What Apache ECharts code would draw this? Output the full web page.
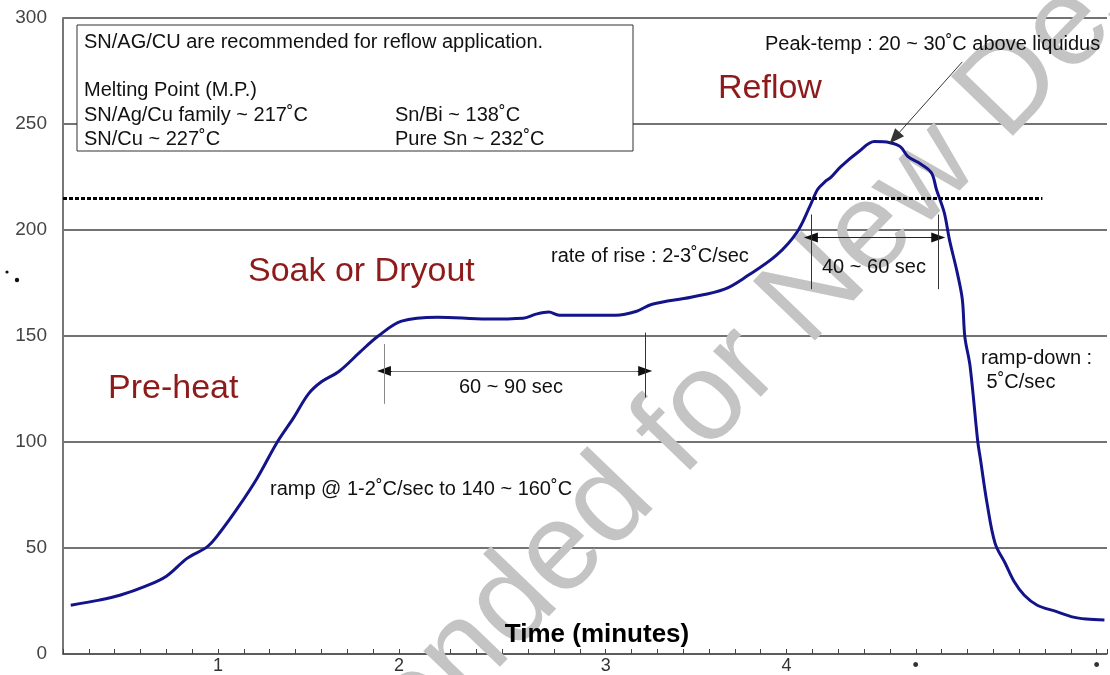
<!DOCTYPE html>
<html><head><meta charset="utf-8">
<script src="https://cdn.jsdelivr.net/npm/echarts@6/dist/echarts.min.js"></script>
<style>html,body{margin:0;padding:0;background:#fff}#c{width:1110px;height:675px}</style>
</head><body><div id="c"></div>
<script>
// x axis unit: ticks of 10 (seconds-like), labels as printed in the picture
const timeX = [3,14,22,32,40,48,56,61,68,75,83,89,95,100,107,115,122,131,145,164,178,183,188,192,214,222,228,243,256,265,276,284,289,292,295,297,301,308,314,320,324,327,331,336,338,341,343,346,348,349,351,354,355,357.6,360.7,364.6,368,372,377,384,391,396,403];
const tempY = [23,25.4,27.7,32,36.7,45.1,50.8,57.8,69.6,82.7,100.1,111,122.7,128.4,133.5,142.5,150,157,158.9,158,158.4,160.3,161.3,159.8,159.8,161.7,165,168.3,172.1,178.5,188,198.9,211.1,219.1,222.9,224.7,229.9,237,241.7,241.2,239.3,234.6,231.8,227.1,219.1,208.3,195.6,180.1,167.4,149.5,135.9,100.1,92.1,71,52.2,42.8,34.3,27.7,23,20.2,17.4,16.5,16];
const xTickLabels = {60:'1',130:'2',210:'3',280:'4',330:'•',400:'•'};
const liquidusTemp = 215;
const liquidusEnd = 379;
const soakSpan = [124.2,225.3], soakArrowY = 133.5, soakTicks = [[146.2,118],[151.6,121]];
const reflowSpan = [289.4,338.7], reflowArrowY = 196.5, reflowTicks = [207.3,172.1];
const peakArrowFrom = [348,279.3], peakArrowTo = [321.8,243.5];

const FONT = '"Liberation Sans", Arial, Helvetica, sans-serif';
const chart = echarts.init(document.getElementById('c'));
const tri = {symbol:'triangle', symbolSize:[10,14]};
const solid = c => ({color:c,width:1,type:'solid'});
// arrow with gray shaft and black heads
function arrow(x0,x1,y,shaft){
  return [
    [{coord:[x0,y],lineStyle:solid(shaft)},{coord:[x1,y]}],
    [{coord:[x0+3,y],lineStyle:solid('#111')},{coord:[x0,y],...tri}],
    [{coord:[x1-3,y],lineStyle:solid('#111')},{coord:[x1,y],...tri}]
  ];
}
const option = {
  animation:false,
  grid:{left:63,right:0,top:18,bottom:19,containLabel:false},
  xAxis:{type:'value',min:0,max:404,interval:10,
    axisLine:{show:true,lineStyle:{color:'#555',width:1.5}},
    axisTick:{show:true,inside:true,length:5,lineStyle:{color:'#444'}},
    splitLine:{show:false},
    axisLabel:{fontFamily:FONT,fontSize:18,color:'#333',margin:3,showMaxLabel:true,
      formatter:v=>xTickLabels[v]||''}},
  yAxis:{type:'value',min:0,max:300,interval:50,
    axisLine:{show:true,lineStyle:{color:'#777',width:2}},
    axisTick:{show:false},
    splitLine:{show:true,lineStyle:{color:'#444',width:1.5}},
    axisLabel:{fontFamily:FONT,fontSize:19,color:'#444',margin:16}},
  series:[{
    type:'line',data:timeX.map((x,i)=>[x,tempY[i]]),showSymbol:false,smooth:0.35,
    lineStyle:{color:'#13138a',width:3},z:3,
    markLine:{silent:true,symbol:['none','none'],label:{show:false},animation:false,
      data:[
        [{coord:[0,liquidusTemp],lineStyle:{color:'#000',width:3,type:[4,2]}},{coord:[liquidusEnd,liquidusTemp]}],
        ...arrow(soakSpan[0],soakSpan[1],soakArrowY,'#777'),
        [{coord:[soakSpan[0],soakTicks[0][0]],lineStyle:solid('#888')},{coord:[soakSpan[0],soakTicks[0][1]]}],
        [{coord:[soakSpan[1],soakTicks[1][0]],lineStyle:solid('#333')},{coord:[soakSpan[1],soakTicks[1][1]]}],
        ...arrow(reflowSpan[0],reflowSpan[1],reflowArrowY,'#222'),
        [{coord:[reflowSpan[0],reflowTicks[0]],lineStyle:solid('#333')},{coord:[reflowSpan[0],reflowTicks[1]]}],
        [{coord:[reflowSpan[1],reflowTicks[0]],lineStyle:solid('#333')},{coord:[reflowSpan[1],reflowTicks[1]]}],
        [{coord:peakArrowFrom,symbol:'none',lineStyle:solid('#333')},{coord:peakArrowTo,symbol:'triangle',symbolSize:[12,15]}]
      ]}
  }],
  graphic:[
    {type:'text',z:1,x:590,y:524,rotation:46*Math.PI/180,
      style:{text:'Not Recommended for New Designs',font:'125px '+FONT,fill:'#c4c4c4',align:'center',verticalAlign:'middle'}},
    {type:'rect',z:100,shape:{x:77,y:25,width:556,height:126},style:{fill:'#fff',stroke:'#333',lineWidth:1}},
    {type:'text',z:101,x:84,y:42,style:{text:'SN/AG/CU are recommended for reflow application.',font:'20px '+FONT,fill:'#111',verticalAlign:'middle'}},
    {type:'text',z:101,x:84,y:90,style:{text:'Melting Point (M.P.)',font:'20px '+FONT,fill:'#111',verticalAlign:'middle'}},
    {type:'text',z:101,x:84,y:115,style:{text:'SN/Ag/Cu family ~ 217˚C',font:'20px '+FONT,fill:'#111',verticalAlign:'middle'}},
    {type:'text',z:101,x:84,y:139,style:{text:'SN/Cu ~ 227˚C',font:'20px '+FONT,fill:'#111',verticalAlign:'middle'}},
    {type:'text',z:101,x:395,y:115,style:{text:'Sn/Bi ~ 138˚C',font:'20px '+FONT,fill:'#111',verticalAlign:'middle'}},
    {type:'text',z:101,x:395,y:139,style:{text:'Pure Sn ~ 232˚C',font:'20px '+FONT,fill:'#111',verticalAlign:'middle'}},
    {type:'text',z:101,x:765,y:44,style:{text:'Peak-temp : 20 ~ 30˚C above liquidus',font:'20px '+FONT,fill:'#111',verticalAlign:'middle'}},
    {type:'text',z:101,x:718,y:89,style:{text:'Reflow',font:'34px '+FONT,fill:'#8e1b1b',verticalAlign:'middle'}},
    {type:'text',z:101,x:248,y:272,style:{text:'Soak or Dryout',font:'34px '+FONT,fill:'#8e1b1b',verticalAlign:'middle'}},
    {type:'text',z:101,x:108,y:389,style:{text:'Pre-heat',font:'34px '+FONT,fill:'#8e1b1b',verticalAlign:'middle'}},
    {type:'text',z:101,x:551,y:256,style:{text:'rate of rise : 2-3˚C/sec',font:'20px '+FONT,fill:'#111',verticalAlign:'middle'}},
    {type:'text',z:101,x:459,y:387,style:{text:'60 ~ 90 sec',font:'20px '+FONT,fill:'#111',verticalAlign:'middle'}},
    {type:'text',z:101,x:822,y:267,style:{text:'40 ~ 60 sec',font:'20px '+FONT,fill:'#111',verticalAlign:'middle'}},
    {type:'text',z:101,x:270,y:489,style:{text:'ramp @ 1-2˚C/sec to 140 ~ 160˚C',font:'20px '+FONT,fill:'#111',verticalAlign:'middle'}},
    {type:'text',z:101,x:981,y:358,style:{text:'ramp-down :',font:'20px '+FONT,fill:'#111',verticalAlign:'middle'}},
    {type:'text',z:101,x:981,y:382,style:{text:' 5˚C/sec',font:'20px '+FONT,fill:'#111',verticalAlign:'middle'}},
    {type:'text',z:101,x:597,y:635,style:{text:'Time (minutes)',font:'bold 26px '+FONT,fill:'#000',align:'center',verticalAlign:'middle'}},
    {type:'circle',z:101,shape:{cx:7,cy:272,r:1.6},style:{fill:'#111'}},
    {type:'circle',z:101,shape:{cx:17,cy:280,r:2.2},style:{fill:'#111'}}
  ]
};
chart.setOption(option);
</script></body></html>
